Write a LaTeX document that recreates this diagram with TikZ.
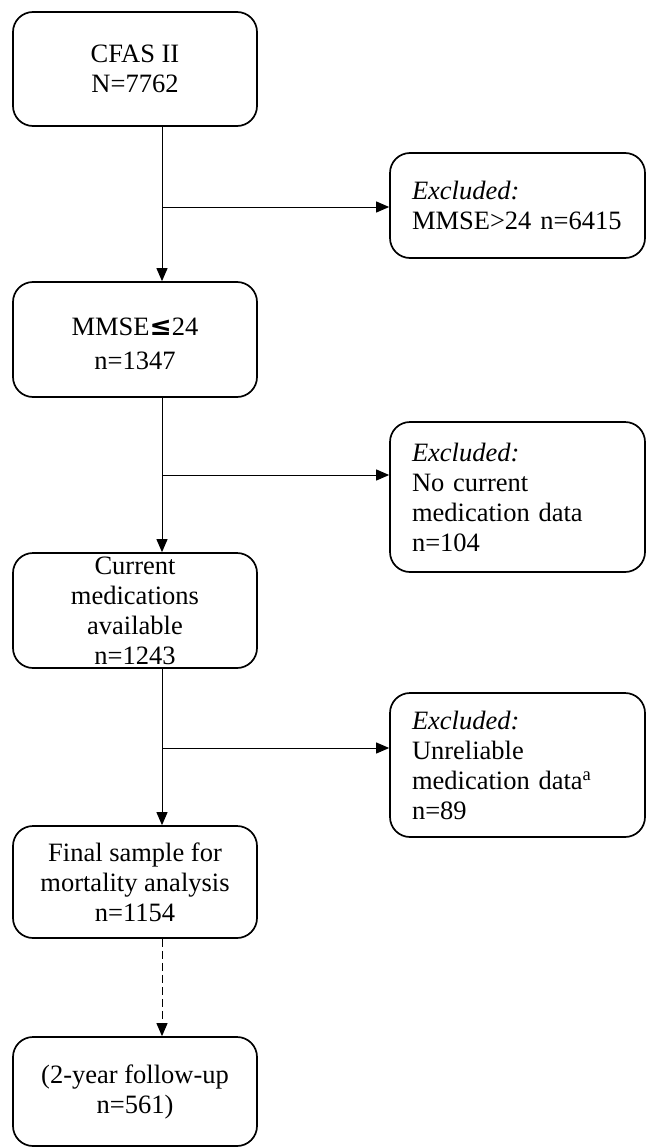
\documentclass[tikz,border=0pt]{standalone}
\usepackage{fontspec}
\setmainfont{Liberation Serif}
\newfontfamily\symfont{DejaVu Sans}
\usetikzlibrary{arrows.meta,calc}
\begin{document}
\begin{tikzpicture}[x=1pt,y=-1pt,
  mainbox/.style={draw,line width=1.7pt,rounded corners=20pt,minimum width=244pt,align=center,inner sep=0pt,
    font=\fontsize{26.5}{30}\selectfont},
  exbox/.style={draw,line width=1.7pt,rounded corners=20pt,minimum width=255pt,text width=211pt,align=left,inner sep=0pt,
    font=\fontsize{26.5}{30}\selectfont},
  conn/.style={line width=1pt,-{Triangle[width=11pt,length=13pt]}},
  dashconn/.style={conn,dash pattern=on 8pt off 4pt}]
\useasboundingbox (0,0) rectangle (646,1148);
\coordinate (sp) at (162,0);
\node[mainbox,minimum height=114pt] (b1) at (135,69) {CFAS II\\N=7762};
\node[mainbox,minimum height=115pt] (b2) at (135,339.5) {\raisebox{0pt}[26pt]{MMSE{\symfont\bfseries ≤}24}\\[4pt]n=1347};
\node[mainbox,minimum height=115pt] (b3) at (135,610.5) {Current\\medications\\available\\n=1243};
\node[mainbox,minimum height=112pt] (b4) at (135,882) {Final sample for\\mortality analysis\\n=1154};
\node[mainbox,minimum height=109pt] (b5) at (135,1091.5) {(2-year follow-up\\n=561)};
\node[exbox,minimum height=105pt] (e1) at (517.5,205.5) {\textit{Excluded:}\\MMSE>24 n=6415};
\node[exbox,minimum height=150pt] (e2) at (517.5,497) {\textit{Excluded:}\\No current\\medication data\\n=104};
\node[exbox,minimum height=144pt] (e3) at (517.5,765) {\textit{Excluded:}\\Unreliable\\medication data\textsuperscript{a}\\n=89};
\coordinate (j1) at (162,207);
\coordinate (j2) at (162,475);
\coordinate (j3) at (162,748);
\draw[conn] (b1.south -| sp) -- (b2.north -| sp);
\draw[conn] (b2.south -| sp) -- (b3.north -| sp);
\draw[conn] (b3.south -| sp) -- (b4.north -| sp);
\draw[dashconn] (b4.south -| sp) -- (b5.north -| sp);
\draw[conn] (j1) -- (j1 -| e1.west);
\draw[conn] (j2) -- (j2 -| e2.west);
\draw[conn] (j3) -- (j3 -| e3.west);
\end{tikzpicture}
\end{document}
